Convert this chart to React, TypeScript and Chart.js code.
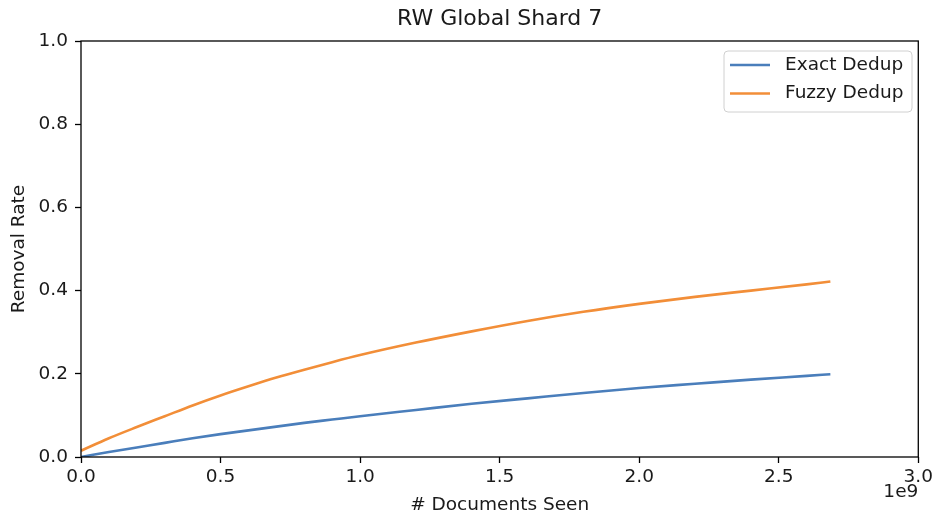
import React, { useEffect, useRef } from "react";
import { Chart, registerables } from "chart.js";

Chart.register(...registerables);

const chartTitle = "RW Global Shard 7";
const xAxisTitle = "# Documents Seen";
const yAxisTitle = "Removal Rate";
const xOffsetLabel = "1e9";
const seriesLabels = ["Exact Dedup", "Fuzzy Dedup"];
const seriesColors = ["#4a7ebb", "#f28e38"];

const docsSeen = [
  0, 0.1e9, 0.2e9, 0.3e9, 0.4e9, 0.5e9, 0.6e9, 0.7e9, 0.8e9, 0.9e9, 1.0e9,
  1.2e9, 1.4e9, 1.6e9, 1.8e9, 2.0e9, 2.2e9, 2.4e9, 2.6e9, 2.685e9,
];
const exactRate = [
  0.0, 0.012, 0.023, 0.034, 0.045, 0.055, 0.064, 0.073, 0.082, 0.09, 0.098,
  0.113, 0.128, 0.141, 0.154, 0.166, 0.176, 0.186, 0.195, 0.199,
];
const fuzzyRate = [
  0.015, 0.045, 0.072, 0.098, 0.124, 0.148, 0.17, 0.191, 0.21, 0.228, 0.245,
  0.275, 0.302, 0.327, 0.349, 0.368, 0.385, 0.4, 0.415, 0.422,
];

const xMin = 0;
const xMax = 3e9;
const xStep = 0.5e9;
const yMin = 0;
const yMax = 1;
const yStep = 0.2;

const FONT = "'DejaVu Sans', sans-serif";
const TEXT = "#1a1a1a";
const FS = 18.5;

const decorPlugin = {
  id: "decor",
  afterDraw(chart: any) {
    const { ctx, chartArea } = chart;
    const { left, right, top, bottom } = chartArea;
    ctx.save();
    ctx.strokeStyle = "#000";
    ctx.lineWidth = 1.3;
    ctx.strokeRect(left, top, right - left, bottom - top);
    ctx.fillStyle = TEXT;
    ctx.font = `22px ${FONT}`;
    ctx.textAlign = "center";
    ctx.textBaseline = "middle";
    ctx.fillText(chartTitle, (left + right) / 2, 19);
    ctx.font = `${FS}px ${FONT}`;
    ctx.textAlign = "right";
    ctx.fillText(xOffsetLabel, right, 492);
    const lx = 724, ly = 51, lw = 188, lh = 61, r = 4;
    ctx.beginPath();
    ctx.moveTo(lx + r, ly);
    ctx.lineTo(lx + lw - r, ly);
    ctx.quadraticCurveTo(lx + lw, ly, lx + lw, ly + r);
    ctx.lineTo(lx + lw, ly + lh - r);
    ctx.quadraticCurveTo(lx + lw, ly + lh, lx + lw - r, ly + lh);
    ctx.lineTo(lx + r, ly + lh);
    ctx.quadraticCurveTo(lx, ly + lh, lx, ly + lh - r);
    ctx.lineTo(lx, ly + r);
    ctx.quadraticCurveTo(lx, ly, lx + r, ly);
    ctx.closePath();
    ctx.fillStyle = "rgba(255,255,255,0.8)";
    ctx.fill();
    ctx.strokeStyle = "#d0d0d0";
    ctx.lineWidth = 1;
    ctx.stroke();
    chart.data.datasets.forEach((ds: any, i: number) => {
      const y = 65 + i * 28.5;
      ctx.strokeStyle = ds.borderColor;
      ctx.lineWidth = 2.6;
      ctx.beginPath();
      ctx.moveTo(730, y);
      ctx.lineTo(770, y);
      ctx.stroke();
      ctx.fillStyle = TEXT;
      ctx.font = `${FS}px ${FONT}`;
      ctx.textAlign = "left";
      ctx.textBaseline = "middle";
      ctx.fillText(ds.label, 785, y);
    });
    ctx.restore();
  },
};

export default function App() {
  const ref = useRef<HTMLCanvasElement>(null);
  useEffect(() => {
    if (!ref.current) return;
    const toPoints = (ys: number[]) => docsSeen.map((x, i) => ({ x, y: ys[i] }));
    const chart = new Chart(ref.current, {
      type: "line",
      data: {
        datasets: [
          {
            label: seriesLabels[0],
            data: toPoints(exactRate),
            borderColor: seriesColors[0],
            backgroundColor: seriesColors[0],
            borderWidth: 2.6,
            pointRadius: 0,
            cubicInterpolationMode: "monotone",
          },
          {
            label: seriesLabels[1],
            data: toPoints(fuzzyRate),
            borderColor: seriesColors[1],
            backgroundColor: seriesColors[1],
            borderWidth: 2.6,
            pointRadius: 0,
            cubicInterpolationMode: "monotone",
          },
        ],
      },
      options: {
        responsive: false,
        animation: false,
        layout: { padding: { top: 41, right: 16, left: 0, bottom: 0 } },
        plugins: {
          legend: { display: false },
          title: { display: false },
          tooltip: { enabled: false },
        },
        scales: {
          x: {
            type: "linear",
            min: xMin,
            max: xMax,
            border: { display: false },
            grid: {
              drawOnChartArea: false,
              drawTicks: true,
              tickLength: 6,
              tickColor: "#000",
              tickWidth: 1.3,
            },
            ticks: {
              stepSize: xStep,
              padding: 3,
              color: TEXT,
              font: { family: FONT, size: FS },
              callback: (v: any) => (Number(v) / 1e9).toFixed(1),
              maxRotation: 0,
            },
            title: {
              display: true,
              text: xAxisTitle,
              color: TEXT,
              font: { family: FONT, size: FS },
              padding: { top: 0, bottom: 2 },
            },
            afterFit: (s: any) => {
              s.height = 61;
            },
          },
          y: {
            min: yMin,
            max: yMax,
            border: { display: false },
            grid: {
              drawOnChartArea: false,
              drawTicks: true,
              tickLength: 6,
              tickColor: "#000",
              tickWidth: 1.3,
            },
            ticks: {
              stepSize: yStep,
              padding: 7,
              color: TEXT,
              font: { family: FONT, size: FS },
              callback: (v: any) => Number(v).toFixed(1),
            },
            title: {
              display: true,
              text: yAxisTitle,
              color: TEXT,
              font: { family: FONT, size: FS },
              padding: { top: 8, bottom: 0 },
            },
            afterFit: (s: any) => {
              s.width = 81;
            },
          },
        },
      },
      plugins: [decorPlugin],
    });
    return () => chart.destroy();
  }, []);
  return (
    <div style={{ position: "fixed", left: 0, top: 0, width: 936, height: 518, background: "#fff" }}>
      <canvas ref={ref} width={936} height={518} />
    </div>
  );
}
